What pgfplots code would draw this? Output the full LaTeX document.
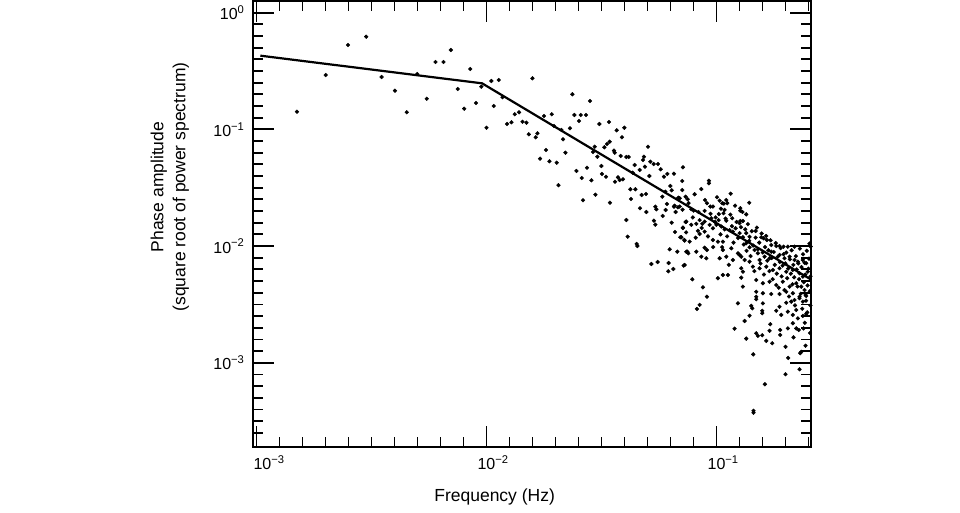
\documentclass[border=0pt]{standalone}
\usepackage{fontspec}
\setmainfont{Liberation Sans}
\usepackage{pgfplots}
\pgfplotsset{compat=1.18}
\usepackage{pgfplotstable}
\pgfplotstableread{
x y
0.0015 0.1417
0.002 0.2923
0.0025 0.5284
0.003 0.6225
0.0035 0.281
0.004 0.2145
0.0045 0.1401
0.005 0.2982
0.0055 0.1831
0.006 0.3778
0.0065 0.3778
0.007 0.4787
0.0075 0.2218
0.008 0.1503
0.0085 0.329
0.009 0.1683
0.0095 0.2321
0.01 0.1033
0.0105 0.2597
0.01131 0.2649
0.01584 0.2739
0.01076 0.1586
0.01174 0.1883
0.01229 0.1112
0.01284 0.115
0.01327 0.1346
0.01386 0.1401
0.01434 0.1163
0.01492 0.1141
0.01527 0.0907
0.01637 0.0855
0.01665 0.0925
0.0171 0.0561
0.01779 0.1302
0.01815 0.0666
0.01878 0.0533
0.01922 0.1346
0.01966 0.1069
0.0202 0.0518
0.02055 0.0332
0.02118 0.0988
0.02152 0.0822
0.02204 0.0631
0.02307 0.1021
0.02363 0.1998
0.02411 0.1328
0.0246 0.044
0.02525 0.118
0.02568 0.1328
0.02594 0.0383
0.02628 0.0247
0.02708 0.1328
0.02735 0.0469
0.02818 0.175
0.02858 0.0366
0.02905 0.064
0.02954 0.071
0.02975 0.02755
0.03035 0.0583
0.03096 0.1112
0.03159 0.0485
0.03178 0.0415
0.03255 0.0702
0.03308 0.0393
0.03341 0.0749
0.03409 0.1157
0.03432 0.0784
0.03443 0.02353
0.03584 0.0657
0.03609 0.0631
0.0362 0.0356
0.03681 0.0982
0.0373 0.0388
0.03794 0.0368
0.03832 0.0592
0.03882 0.0855
0.03921 0.0373
0.03976 0.1033
0.04056 0.058
0.04151 0.058
0.04222 0.03065
0.04248 0.0253
0.0432 0.0425
0.04408 0.0495
0.04439 0.03065
0.04634 0.0449
0.04648 0.02107
0.04727 0.02739
0.04789 0.05465
0.04837 0.0583
0.04887 0.0479
0.04935 0.02794
0.05035 0.071
0.05106 0.03985
0.05157 0.05284
0.05331 0.0505
0.05422 0.02175
0.05565 0.0505
0.05718 0.0455
0.05816 0.02649
0.05909 0.0393
0.05993 0.02923
0.06114 0.0415
0.063 0.03271
0.06383 0.03005
0.06531 0.0417
0.06577 0.02218
0.06825 0.02597
0.04955 0.01958
0.05477 0.02066
0.04056 0.01673
0.05347 0.0165
0.05422 0.01524
0.05834 0.0181
0.0601 0.02038
0.06088 0.02294
0.06383 0.01586
0.06597 0.0132
0.06643 0.01958
0.06531 0.02175
0.06797 0.02149
0.06962 0.01189
0.07145 0.01428
0.07246 0.01127
0.07341 0.01608
0.04109 0.01203
0.04497 0.01042
0.04529 0.01001
0.06256 0.00938
0.06756 0.00895
0.07467 0.00895
0.07541 0.00867
0.0521 0.00702
0.05548 0.0073
0.06193 0.00716
0.06491 0.00636
0.06174 0.00608
0.07196 0.00679
0.07145 0.0473
0.071 0.0361
0.09269 0.0363
0.09269 0.0345
0.071 0.0302
0.0859 0.0308
0.08033 0.0278
0.07341 0.02649
0.0749 0.0252
0.06915 0.0257
0.1152 0.0281
0.1032 0.0245
0.106 0.0233
0.1103 0.0248
0.1114 0.0233
0.09085 0.0233
0.094 0.0218
0.09647 0.0218
0.1388 0.0235
0.1084 0.0204
0.1045 0.0209
0.1073 0.0191
0.1269 0.0211
0.1269 0.0201
0.07771 0.0207
0.07953 0.0201
0.08878 0.02
0.06915 0.0218
0.1347 0.0187
0.09911 0.0176
0.09493 0.0173
0.1021 0.0167
0.1103 0.0165
0.1171 0.0173
0.1269 0.0164
0.1302 0.0164
0.126 0.0157
0.08445 0.0167
0.08878 0.0162
0.08676 0.0155
0.08171 0.0155
0.07392 0.0162
0.07771 0.0152
0.07145 0.0144
0.09333 0.0152
0.09647 0.0142
0.0999 0.0152
0.1049 0.0147
0.1084 0.0139
0.114 0.0137
0.1178 0.0133
0.08302 0.0135
0.08445 0.0127
0.08878 0.0133
0.1211 0.0142
0.126 0.0129
0.1347 0.0129
0.1392 0.012
0.1302 0.0119
0.1479 0.01346
0.1565 0.0119
0.1602 0.01166
0.1656 0.01127
0.173 0.0102
0.1819 0.01
0.1879 0.01
0.1956 0.00988
0.2042 0.00988
0.2184 0.00988
0.07033 0.0119
0.07268 0.01112
0.07641 0.0109
0.09647 0.01127
0.1014 0.0109
0.1066 0.0109
0.08878 0.00968
0.09085 0.00925
0.08171 0.00895
0.07392 0.00895
0.116 0.00957
0.1066 0.00925
0.1239 0.00867
0.1347 0.01056
0.1392 0.00976
0.1464 0.00925
0.1513 0.00867
0.0859 0.00811
0.09031 0.00786
0.1032 0.00786
0.1103 0.00811
0.1178 0.0076
0.1281 0.00811
0.1325 0.0076
0.1392 0.00735
0.1539 0.0076
0.1618 0.00811
0.1701 0.00786
0.173 0.00895
0.1879 0.00839
0.1976 0.00786
0.2078 0.00811
0.2184 0.0076
0.2258 0.00735
0.2373 0.0076
0.2455 0.00712
0.07268 0.00688
0.1281 0.00645
0.1302 0.00603
0.1439 0.00666
0.1539 0.00645
0.1646 0.00666
0.1758 0.00624
0.1879 0.00645
0.201 0.00603
0.2147 0.00624
0.2296 0.00584
0.2373 0.00547
0.2495 0.00603
0.1066 0.00565
0.1121 0.00565
0.1014 0.0053
0.0785 0.00519
0.1281 0.00536
0.1302 0.00449
0.1489 0.00512
0.1591 0.0048
0.1701 0.00495
0.1819 0.00464
0.1943 0.00495
0.2078 0.00449
0.2222 0.0048
0.2335 0.00449
0.2414 0.0042
0.08728 0.00443
0.1489 0.00406
0.1591 0.00394
0.173 0.00388
0.1879 0.00388
0.201 0.00406
0.2147 0.00394
0.2296 0.00368
0.2455 0.00373
0.09085 0.00368
0.1489 0.00368
0.08445 0.00313
0.0822 0.00289
0.1239 0.00323
0.1489 0.0035
0.1416 0.00307
0.1431 0.00293
0.1591 0.00323
0.1581 0.00279
0.1581 0.00266
0.1879 0.00302
0.201 0.00327
0.2113 0.00334
0.2184 0.00345
0.2296 0.00357
0.2373 0.00334
0.2438 0.00381
0.1392 0.00253
0.1325 0.00228
0.1819 0.00279
0.1912 0.00257
0.2042 0.00274
0.2147 0.00257
0.2222 0.00283
0.2258 0.0024
0.2373 0.00252
0.2455 0.00262
0.1198 0.00196
0.1347 0.00161
0.1489 0.00179
0.1513 0.0017
0.1581 0.00172
0.1713 0.00214
0.1701 0.00188
0.1646 0.00154
0.1748 0.00147
0.1892 0.00191
0.1892 0.00173
0.2042 0.00197
0.2147 0.00218
0.2222 0.00197
0.228 0.00191
0.239 0.00197
0.2162 0.00165
0.1996 0.00137
0.2438 0.0014
0.2335 0.00124
0.2312 0.00121
0.1445 0.00118
0.205 0.0011
0.2296 0.000879
0.1996 0.000797
0.1623 0.000654
0.1449 0.000388
0.1449 0.000373
0.1005 0.0262
0.1023 0.0188
0.1041 0.0126
0.1058 0.0098
0.1077 0.0231
0.1095 0.0172
0.1112 0.0121
0.1131 0.0069
0.1149 0.0186
0.1167 0.0148
0.1186 0.0107
0.1204 0.0222
0.1222 0.0161
0.1241 0.0117
0.1259 0.0084
0.1277 0.0145
0.1296 0.0196
0.1314 0.0103
0.1333 0.0139
0.1351 0.0091
0.1369 0.0154
0.1388 0.0111
0.1406 0.0082
0.1424 0.0134
0.1443 0.0101
0.1461 0.0061
0.1479 0.0118
0.1498 0.0144
0.1516 0.0094
0.1534 0.0107
0.1553 0.0071
0.1571 0.0128
0.1589 0.0088
0.1608 0.0057
0.1626 0.0098
0.1644 0.0122
0.1663 0.0075
0.1681 0.0092
0.1699 0.0061
0.1718 0.0112
0.1736 0.0079
0.1754 0.0052
0.1773 0.0089
0.1791 0.0069
0.1809 0.0106
0.1828 0.0058
0.1846 0.0081
0.1864 0.0044
0.1883 0.0073
0.1901 0.0096
0.1919 0.0055
0.1938 0.0068
0.1956 0.0085
0.1974 0.0042
0.1993 0.0071
0.2011 0.0088
0.2029 0.0053
0.2048 0.0064
0.2066 0.0037
0.2084 0.0077
0.2103 0.0058
0.2121 0.0092
0.2139 0.0047
0.2158 0.0069
0.2176 0.0054
0.2194 0.0031
0.2213 0.0082
0.2231 0.0063
0.2249 0.0045
0.2268 0.0071
0.2286 0.0052
0.2304 0.0095
0.2323 0.0039
0.2341 0.0066
0.2359 0.0029
0.2378 0.0085
0.2396 0.0049
0.2414 0.0072
0.2433 0.0057
0.2451 0.0034
0.2469 0.0091
0.2488 0.0046
0.2506 0.0064
0.2524 0.0078
0.2543 0.0041
0.2561 0.0055
0.2566 0.0099
0.2535 0.0105
0.2480 0.0027
0.2420 0.0022
0.2560 0.0031
0.2550 0.0018
0.0712 0.0205
0.0738 0.0131
0.0756 0.0233
0.0789 0.0176
0.0812 0.0118
0.0835 0.0196
0.0862 0.0143
0.0891 0.0248
0.0918 0.0121
0.0942 0.0189
0.0967 0.0098
0.0985 0.0161
}\scatterdata
\begin{document}
\begin{tikzpicture}
\useasboundingbox (-253pt,-66pt) rectangle (707pt,447pt);
\begin{axis}[
  at={(0pt,0pt)}, anchor=south west,
  scale only axis, width=558pt, height=446pt,
  xmode=log, ymode=log,
  xmin=9.66e-4, xmax=0.2575, ymin=1.897e-4, ymax=1.259,
  xtick={0.001,0.01,0.1},
  xticklabels={\hspace{12pt}10\rlap{\textsuperscript{−3}},10\rlap{\textsuperscript{−2}},10\rlap{\textsuperscript{−1}}},
  ytick={0.001,0.01,0.1,1},
  yticklabels={10\textsuperscript{−3},10\textsuperscript{−2},10\textsuperscript{−1},10\textsuperscript{0}},
  minor xtick={0.001259,0.001585,0.001995,0.002512,0.003162,0.003981,0.005012,0.00631,0.007943,
    0.01259,0.01585,0.01995,0.02512,0.03162,0.03981,0.05012,0.0631,0.07943,
    0.1259,0.1585,0.1995,0.2512},
  minor ytick={0.0002512,0.0003162,0.0003981,0.0005012,0.000631,0.0007943,
    0.001259,0.001585,0.001995,0.002512,0.003162,0.003981,0.005012,0.00631,0.007943,
    0.01259,0.01585,0.01995,0.02512,0.03162,0.03981,0.05012,0.0631,0.07943,
    0.1259,0.1585,0.1995,0.2512,0.3162,0.3981,0.5012,0.631,0.7943},
  major tick length=21pt, minor tick length=10.5pt,
  tick align=inside,
  every tick/.style={black, line width=1.8pt},
  axis line style={black, line width=1.8pt},
  tick label style={font=\fontsize{16}{18}\selectfont},
  xticklabel style={yshift=-5pt},
  yticklabel style={xshift=-5pt},
  xlabel={Frequency (Hz)},
  ylabel={Phase amplitude\\(square root of power spectrum)},
  label style={font=\fontsize{17.5}{22}\selectfont},
  xlabel style={at={(axis description cs:0.433,-0.112)}, anchor=center},
  ylabel style={at={(axis description cs:-0.149,0.583)}, anchor=center, align=center},
]
\addplot[only marks, mark=*, mark size=1.9pt, black] table {\scatterdata};
\addplot[black, line width=2.2pt, line join=round] coordinates {(0.00104,0.428) (0.00957,0.248) (0.2564,0.00519)};
\end{axis}
\end{tikzpicture}
\end{document}
